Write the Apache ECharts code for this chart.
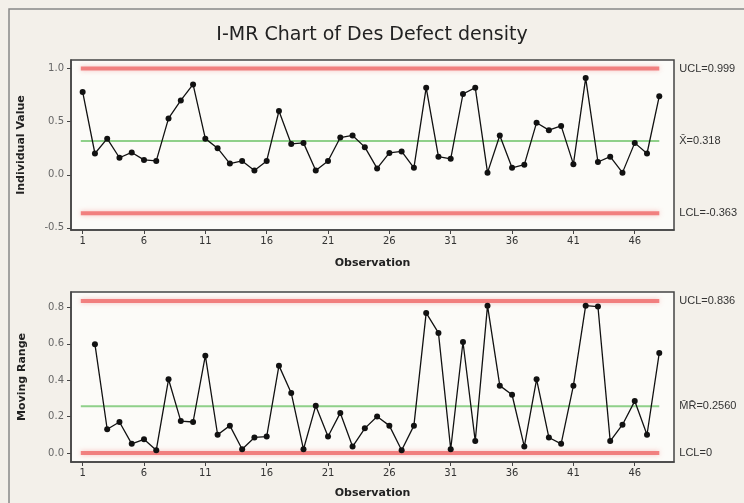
<!DOCTYPE html>
<html>
<head>
<meta charset="utf-8">
<script src="https://cdn.jsdelivr.net/npm/echarts@6/dist/echarts.min.js"></script>
<style>
html,body{margin:0;padding:0;background:#f3f0ea;}
#c{width:744px;height:503px;}
</style>
</head>
<body>
<div id="c"></div>
<script>
const titleText = 'I-MR Chart of Des Defect density';
const observations = [1,2,3,4,5,6,7,8,9,10,11,12,13,14,15,16,17,18,19,20,21,22,23,24,25,26,27,28,29,30,31,32,33,34,35,36,37,38,39,40,41,42,43,44,45,46,47,48];
const xTicks = [1,6,11,16,21,26,31,36,41,46];
const individualValues = [0.78,0.20,0.34,0.16,0.21,0.14,0.13,0.53,0.70,0.85,0.34,0.25,0.105,0.13,0.04,0.13,0.60,0.29,0.30,0.04,0.13,0.35,0.37,0.26,0.06,0.205,0.22,0.065,0.82,0.17,0.15,0.76,0.82,0.02,0.37,0.065,0.095,0.49,0.42,0.46,0.10,0.91,0.12,0.17,0.02,0.30,0.20,0.74];
const movingRanges = [null,0.598,0.13,0.17,0.05,0.075,0.015,0.405,0.175,0.17,0.535,0.10,0.15,0.02,0.085,0.09,0.48,0.33,0.02,0.26,0.09,0.22,0.035,0.135,0.20,0.15,0.015,0.15,0.77,0.66,0.02,0.61,0.065,0.81,0.37,0.32,0.035,0.405,0.085,0.05,0.37,0.81,0.805,0.065,0.155,0.285,0.10,0.55];
const iTicks = [-0.5,0.0,0.5,1.0];
const mrTicks = [0.0,0.2,0.4,0.6,0.8];
const iLimits = {ucl:0.999, mean:0.318, lcl:-0.363};
const mrLimits = {ucl:0.836, mean:0.2560, lcl:0};
const iLabels = {ucl:'UCL=0.999', mean:'X\u0304=0.318', lcl:'LCL=-0.363'};
const mrLabels = {ucl:'UCL=0.836', mean:'M\u0304R\u0304=0.2560', lcl:'LCL=0'};
const lineSpan = [0.85, 48];

const chart = echarts.init(document.getElementById('c'));
const font = 'DejaVu Sans';
function xAxis(gi){
  return {
    type:'value', gridIndex:gi, min:0.05, max:49.2,
    name:'Observation', nameLocation:'middle', nameGap: gi===0?28:26,
    nameTextStyle:{fontFamily:font,fontWeight:'bold',fontSize:11,color:'#222'},
    axisLine:{show:true,onZero:false,lineStyle:{color:'#444',width:1.5}},
    axisTick:{show:true,customValues:xTicks,length:4,lineStyle:{color:'#444'}},
    axisLabel:{customValues:xTicks,fontFamily:font,fontSize:10,color:'#333',margin:6},
    splitLine:{show:false}
  };
}
function yAxis(gi,min,max,ticks,name,gap){
  return {
    type:'value', gridIndex:gi, min:min, max:max,
    name:name, nameLocation:'middle', nameGap:gap, nameRotate:90,
    nameTextStyle:{fontFamily:font,fontWeight:'bold',fontSize:11,color:'#222'},
    axisLine:{show:true,onZero:false,lineStyle:{color:'#444',width:1.5}},
    axisTick:{show:true,customValues:ticks,length:4,lineStyle:{color:'#444'}},
    axisLabel:{customValues:ticks,fontFamily:font,fontSize:10,color:'#666',margin:7,formatter:v=>v.toFixed(1)},
    splitLine:{show:false}
  };
}
function ctrl(gi,val,label,color,width,glow){
  return {
    type:'line', xAxisIndex:gi, yAxisIndex:gi, symbol:'none', silent:true, z:1,
    data:[[lineSpan[0],val],[lineSpan[1],val]],
    lineStyle:{color:color,width:width,cap:'butt',shadowColor:glow,shadowBlur:glow?5:0},
    endLabel:{show:true,formatter:label,distance:20,fontFamily:'Liberation Sans',fontSize:11,color:'#333'}
  };
}
const red='rgba(240,110,110,0.85)', green='#8fd08a', redGlow='rgba(240,120,120,0.5)';
chart.setOption({
  backgroundColor:'#f3f0ea',
  animation:false,
  title:{text:titleText,left:'center',top:21,textStyle:{fontFamily:font,fontWeight:'normal',fontSize:19,color:'#222'}},
  graphic:[{type:'rect',shape:{x:9,y:9,width:760,height:520},style:{fill:'none',stroke:'#888',lineWidth:1.5},silent:true}],
  grid:[
    {left:71,top:60,width:603,height:170,show:true,backgroundColor:'#fcfbf8',borderColor:'#444',borderWidth:1.5},
    {left:71,top:292,width:603,height:170,show:true,backgroundColor:'#fcfbf8',borderColor:'#444',borderWidth:1.5}
  ],
  xAxis:[xAxis(0),xAxis(1)],
  yAxis:[
    yAxis(0,-0.52,1.08,iTicks,'Individual Value',44),
    yAxis(1,-0.05,0.885,mrTicks,'Moving Range',43)
  ],
  series:[
    ctrl(0,iLimits.ucl,iLabels.ucl,red,4,redGlow),
    ctrl(0,iLimits.mean,iLabels.mean,green,2,null),
    ctrl(0,iLimits.lcl,iLabels.lcl,red,4,redGlow),
    ctrl(1,mrLimits.ucl,mrLabels.ucl,red,4,redGlow),
    ctrl(1,mrLimits.mean,mrLabels.mean,green,2,null),
    ctrl(1,mrLimits.lcl,mrLabels.lcl,red,4,redGlow),
    {type:'line',xAxisIndex:0,yAxisIndex:0,z:5,symbol:'circle',symbolSize:6,
     data:observations.map((o,i)=>[o,individualValues[i]]),
     lineStyle:{color:'#111',width:1.3},itemStyle:{color:'#111'}},
    {type:'line',xAxisIndex:1,yAxisIndex:1,z:5,symbol:'circle',symbolSize:6,
     data:observations.map((o,i)=>[o,movingRanges[i]]).filter(d=>d[1]!==null),
     lineStyle:{color:'#111',width:1.3},itemStyle:{color:'#111'}}
  ]
});
</script>
</body>
</html>
